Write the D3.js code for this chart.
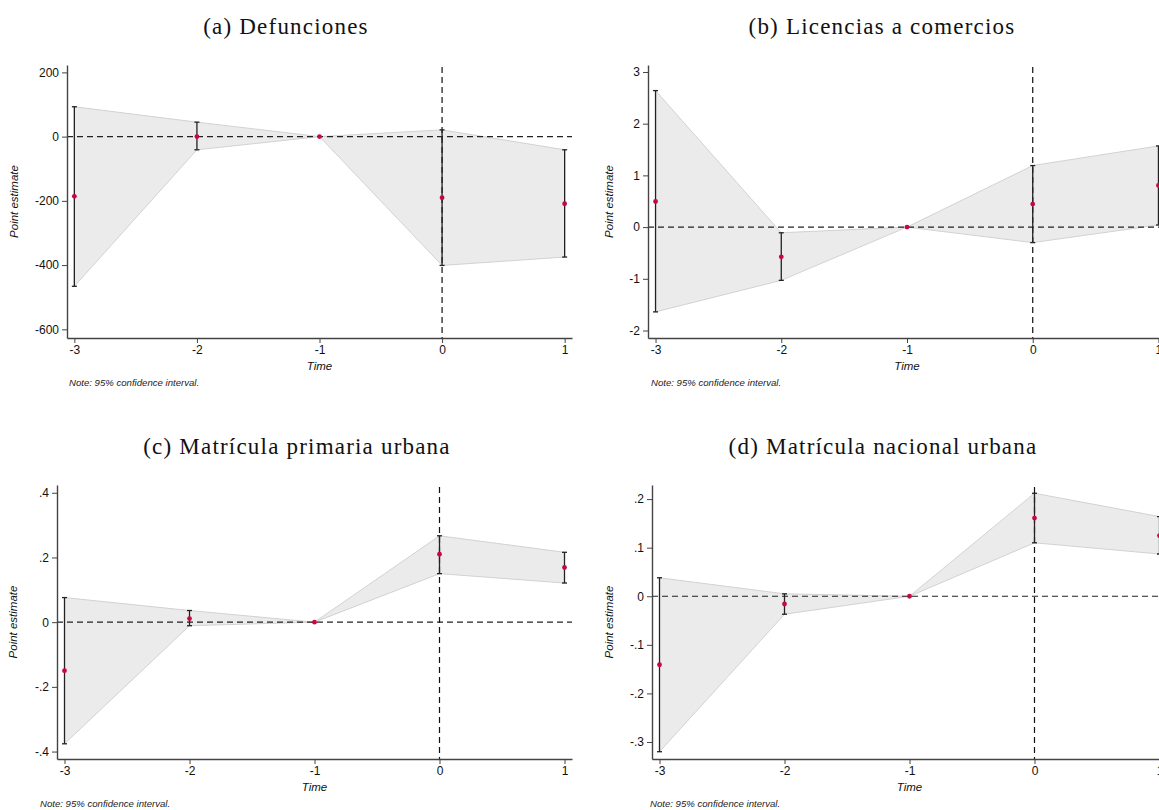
<!DOCTYPE html>
<html>
<head>
<meta charset="utf-8">
<script src="https://cdn.jsdelivr.net/npm/d3@7"></script>
<style>
  body { margin: 0; background: #fff; }
  svg { display: block; }
</style>
</head>
<body>
<div id="chart"></div>
<script>
// event times on the x axis
var times = [-3, -2, -1, 0, 1];
var timeLabels = ["-3", "-2", "-1", "0", "1"];

// (a) Defunciones
var estA = [-186, 0, 0, -190, -209];
var loA = [-466, -41, 0, -401, -375];
var hiA = [93, 45, 0, 21, -41];
var ticksA = [-600, -400, -200, 0, 200];
var tickLabelsA = ["-600", "-400", "-200", "0", "200"];

// (b) Licencias a comercios
var estB = [0.495, -0.575, 0, 0.445, 0.805];
var loB = [-1.64, -1.03, 0, -0.30, 0.04];
var hiB = [2.64, -0.11, 0, 1.19, 1.57];
var ticksB = [-2, -1, 0, 1, 2, 3];
var tickLabelsB = ["-2", "-1", "0", "1", "2", "3"];

// (c) Matricula primaria urbana
var estC = [-0.150, 0.011, 0, 0.210, 0.169];
var loC = [-0.376, -0.011, 0, 0.150, 0.121];
var hiC = [0.076, 0.036, 0, 0.267, 0.216];
var ticksC = [-0.4, -0.2, 0, 0.2, 0.4];
var tickLabelsC = ["-.4", "-.2", "0", ".2", ".4"];

// (d) Matricula nacional urbana
var estD = [-0.141, -0.016, 0, 0.161, 0.125];
var loD = [-0.320, -0.037, 0, 0.110, 0.087];
var hiD = [0.038, 0.005, 0, 0.212, 0.164];
var ticksD = [-0.3, -0.2, -0.1, 0, 0.1, 0.2];
var tickLabelsD = ["-.3", "-.2", "-.1", "0", ".1", ".2"];

var titles = ["(a) Defunciones", "(b) Licencias a comercios",
              "(c) Matrícula primaria urbana", "(d) Matrícula nacional urbana"];
var noteText = "Note: 95% confidence interval.";

// panel layout
var panels = [
    { title: titles[0], est: estA, lo: loA, hi: hiA, ticks: ticksA, labels: tickLabelsA,
      yDom: [-627, 223], left: 67, right: 572, top: 65, bottom: 338,
      titleX: 286, ylabX: 18, noteX: 69 },
    { title: titles[1], est: estB, lo: loB, hi: hiB, ticks: ticksB, labels: tickLabelsB,
      yDom: [-2.145, 3.135], left: 648, right: 1166, top: 65, bottom: 338,
      titleX: 882, ylabX: 613, noteX: 651 },
    { title: titles[2], est: estC, lo: loC, hi: hiC, ticks: ticksC, labels: tickLabelsC,
      yDom: [-0.423, 0.424], left: 57, right: 572, top: 485, bottom: 759,
      titleX: 297, ylabX: 17, noteX: 40 },
    { title: titles[3], est: estD, lo: loD, hi: hiD, ticks: ticksD, labels: tickLabelsD,
      yDom: [-0.335, 0.229], left: 652, right: 1167, top: 485, bottom: 759,
      titleX: 883, ylabX: 613, noteX: 650 }
];

var svg = d3.select("#chart")
    .append("svg")
    .attr("width", 1159)
    .attr("height", 810);

panels.forEach(function (p) {
    var g = svg.append("g");

    var x = d3.scaleLinear()
        .domain([-3.06, 1.06])
        .range([p.left, p.right]);
    var y = d3.scaleLinear()
        .domain(p.yDom)
        .range([p.bottom, p.top]);

    var rows = times.map(function (t, i) {
        return { t: t, est: p.est[i], lo: p.lo[i], hi: p.hi[i] };
    });

    // confidence band
    var area = d3.area()
        .x(function (d) { return x(d.t); })
        .y0(function (d) { return y(d.lo); })
        .y1(function (d) { return y(d.hi); });
    g.append("path")
        .datum(rows)
        .attr("d", area)
        .attr("fill", "#ebebeb")
        .attr("stroke", "#d2d2d2")
        .attr("stroke-width", 1);

    // reference lines
    g.append("line")
        .attr("x1", p.left).attr("x2", p.right)
        .attr("y1", y(0)).attr("y2", y(0))
        .attr("stroke", "#222")
        .attr("stroke-width", 1.2)
        .attr("stroke-dasharray", "6,4");
    g.append("line")
        .attr("x1", x(0)).attr("x2", x(0))
        .attr("y1", p.top + 2).attr("y2", p.bottom)
        .attr("stroke", "#111")
        .attr("stroke-width", 1.2)
        .attr("stroke-dasharray", "6,4");

    // error bars
    var bars = g.append("g")
        .selectAll("g")
        .data(rows.filter(function (d) { return d.hi !== d.lo; }))
        .enter().append("g")
        .attr("stroke", "#222")
        .attr("stroke-width", 1.3);
    bars.append("line")
        .attr("x1", function (d) { return x(d.t); })
        .attr("x2", function (d) { return x(d.t); })
        .attr("y1", function (d) { return y(d.lo); })
        .attr("y2", function (d) { return y(d.hi); });
    bars.append("line")
        .attr("x1", function (d) { return x(d.t) - 2.5; })
        .attr("x2", function (d) { return x(d.t) + 2.5; })
        .attr("y1", function (d) { return y(d.lo); })
        .attr("y2", function (d) { return y(d.lo); });
    bars.append("line")
        .attr("x1", function (d) { return x(d.t) - 2.5; })
        .attr("x2", function (d) { return x(d.t) + 2.5; })
        .attr("y1", function (d) { return y(d.hi); })
        .attr("y2", function (d) { return y(d.hi); });

    // point estimates
    g.append("g")
        .selectAll("circle")
        .data(rows)
        .enter().append("circle")
        .attr("cx", function (d) { return x(d.t); })
        .attr("cy", function (d) { return y(d.est); })
        .attr("r", 2.4)
        .attr("fill", "#c8073f");

    // axes
    var yAxis = g.append("g")
        .attr("transform", "translate(" + p.left + ",0)")
        .call(d3.axisLeft(y)
            .tickValues(p.ticks)
            .tickFormat(function (d, i) { return p.labels[i]; })
            .tickSize(5)
            .tickSizeOuter(0)
            .tickPadding(3));
    var xAxis = g.append("g")
        .attr("transform", "translate(0," + p.bottom + ")")
        .call(d3.axisBottom(x)
            .tickValues(times)
            .tickFormat(function (d, i) { return timeLabels[i]; })
            .tickSize(5)
            .tickSizeOuter(0)
            .tickPadding(2));
    [yAxis, xAxis].forEach(function (a) {
        a.selectAll("path").attr("stroke", "#444").attr("stroke-width", 1.4);
        a.selectAll("line").attr("stroke", "#444");
        a.selectAll("text")
            .attr("fill", "#111")
            .style("font-family", "'Liberation Sans', Arial, sans-serif")
            .style("font-size", "12px");
    });

    // labels
    g.append("text")
        .attr("transform", "translate(" + p.ylabX + "," + ((p.top + p.bottom) / 2) + ") rotate(-90)")
        .attr("text-anchor", "middle")
        .style("font-family", "'Liberation Sans', Arial, sans-serif")
        .style("font-size", "11.5px")
        .style("font-style", "italic")
        .attr("fill", "#111")
        .text("Point estimate");
    g.append("text")
        .attr("x", x(-1))
        .attr("y", p.bottom + 32)
        .attr("text-anchor", "middle")
        .style("font-family", "'Liberation Sans', Arial, sans-serif")
        .style("font-size", "11.5px")
        .style("font-style", "italic")
        .attr("fill", "#111")
        .text("Time");
    g.append("text")
        .attr("x", p.noteX)
        .attr("y", p.bottom + 48)
        .style("font-family", "'Liberation Sans', Arial, sans-serif")
        .style("font-size", "9.6px")
        .style("font-style", "italic")
        .attr("fill", "#222")
        .text(noteText);
    g.append("text")
        .attr("x", p.titleX)
        .attr("y", p.top - 31)
        .attr("text-anchor", "middle")
        .style("font-family", "'Liberation Serif', 'Times New Roman', serif")
        .style("font-size", "23px")
        .style("letter-spacing", "1.2px")
        .attr("fill", "#111")
        .text(p.title);
});
</script>
</body>
</html>
